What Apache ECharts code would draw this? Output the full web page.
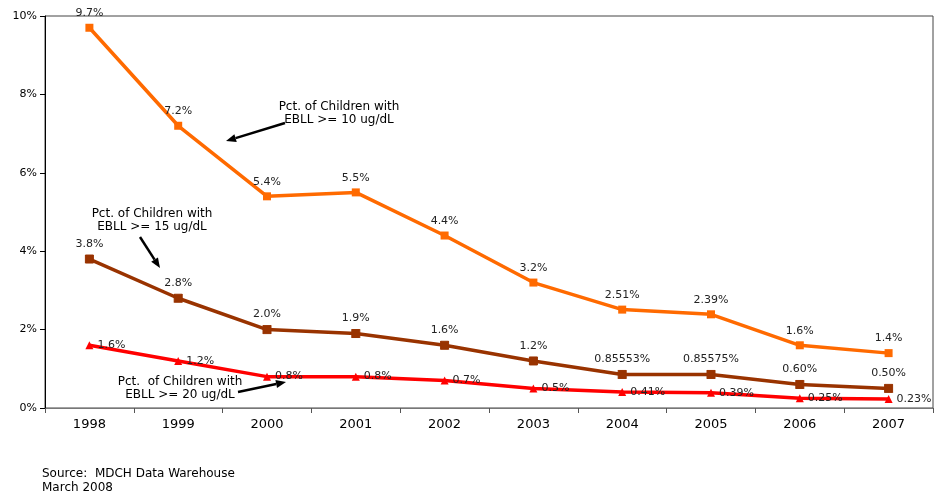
<!DOCTYPE html>
<html>
<head>
<meta charset="utf-8">
<script src="https://cdn.jsdelivr.net/npm/echarts@6/dist/echarts.min.js"></script>
<style>
  html, body { margin: 0; padding: 0; background: #fff; }
  #chart { width: 935px; height: 493px; }
</style>
</head>
<body>
<div id="chart"></div>
<script>
// Blood lead surveillance, Michigan children, 1998-2007
const years = ['1998', '1999', '2000', '2001', '2002', '2003', '2004', '2005', '2006', '2007'];

const ebll10 = [9.7, 7.2, 5.4, 5.5, 4.4, 3.2, 2.51, 2.39, 1.6, 1.4];
const ebll10Labels = ['9.7%', '7.2%', '5.4%', '5.5%', '4.4%', '3.2%', '2.51%', '2.39%', '1.6%', '1.4%'];

const ebll15 = [3.8, 2.8, 2.0, 1.9, 1.6, 1.2, 0.85553, 0.85575, 0.60, 0.50];
const ebll15Labels = ['3.8%', '2.8%', '2.0%', '1.9%', '1.6%', '1.2%', '0.85553%', '0.85575%', '0.60%', '0.50%'];

const ebll20 = [1.6, 1.2, 0.8, 0.8, 0.7, 0.5, 0.41, 0.39, 0.25, 0.23];
const ebll20Labels = ['1.6%', '1.2%', '0.8%', '0.8%', '0.7%', '0.5%', '0.41%', '0.39%', '0.25%', '0.23%'];

const yTicks = [0, 2, 4, 6, 8, 10];

const FONT = '"DejaVu Sans", Verdana, sans-serif';

// Straight arrow with a filled head at (x2, y2)
function arrow(x1, y1, x2, y2) {
  const ang = Math.atan2(y2 - y1, x2 - x1);
  const len = 10, half = 4;
  const bx = x2 - len * Math.cos(ang), by = y2 - len * Math.sin(ang);
  const px = -Math.sin(ang) * half, py = Math.cos(ang) * half;
  return [
    { type: 'line', silent: true, z: 100,
      shape: { x1: x1, y1: y1, x2: bx, y2: by },
      style: { stroke: '#000', lineWidth: 2.5 } },
    { type: 'polygon', silent: true, z: 100,
      shape: { points: [[x2, y2], [bx + px, by + py], [bx - px, by - py]] },
      style: { fill: '#000' } }
  ];
}

// Two-line centred caption; (cx, top) is the centre of its top edge
function note(cx, top, text) {
  return { type: 'text', silent: true, z: 100, x: cx, y: top,
    style: { text: text, font: '12px ' + FONT, fill: '#000', align: 'center',
      verticalAlign: 'top', lineHeight: 13 } };
}

function labelFmt(arr) {
  return function (p) { return arr[p.dataIndex]; };
}

const labelBase = { show: true, color: '#222', fontSize: 11, fontFamily: FONT };

const chart = echarts.init(document.getElementById('chart'));
chart.setOption({
  animation: false,
  backgroundColor: '#fff',
  grid: { left: 45, right: 2, top: 16, bottom: 85, show: true, borderColor: '#444', borderWidth: 1 },
  xAxis: {
    type: 'category',
    data: years,
    boundaryGap: true,
    axisLine: { lineStyle: { color: '#777', width: 1 } },
    axisTick: { show: true, length: 5, lineStyle: { color: '#555' } },
    axisLabel: { color: '#000', fontSize: 13, fontFamily: FONT, margin: 10 },
    splitLine: { show: false }
  },
  yAxis: {
    type: 'value',
    min: yTicks[0],
    max: yTicks[yTicks.length - 1],
    interval: 2,
    axisLine: { show: true, lineStyle: { color: '#000', width: 1 } },
    axisTick: { show: true, length: 5, lineStyle: { color: '#000' } },
    axisLabel: { color: '#000', fontSize: 11, fontFamily: FONT, margin: 8,
      formatter: function (v) { return v + '%'; } },
    splitLine: { show: false }
  },
  series: [
    {
      name: 'EBLL >= 10 ug/dL',
      type: 'line',
      data: ebll10,
      symbol: 'rect',
      symbolSize: 8,
      lineStyle: { color: '#FF6A00', width: 3.5 },
      itemStyle: { color: '#FF6A00' },
      label: Object.assign({}, labelBase, { position: 'top', distance: 5,
        formatter: labelFmt(ebll10Labels) }),
      z: 3
    },
    {
      name: 'EBLL >= 15 ug/dL',
      type: 'line',
      data: ebll15,
      symbol: 'path://M0,0 L10,0 L10,10 L0,10 Z M0,0 L10,10 M10,0 L0,10',
      symbolSize: 8,
      lineStyle: { color: '#993300', width: 3.5 },
      itemStyle: { color: '#993300', borderColor: '#993300', borderWidth: 1 },
      label: Object.assign({}, labelBase, { position: 'top', distance: 5,
        formatter: labelFmt(ebll15Labels) }),
      z: 2
    },
    {
      name: 'EBLL >= 20 ug/dL',
      type: 'line',
      data: ebll20,
      symbol: 'triangle',
      symbolSize: 8,
      lineStyle: { color: '#FF0000', width: 3.5 },
      itemStyle: { color: '#FF0000' },
      label: Object.assign({}, labelBase, { position: 'right', distance: 4,
        formatter: labelFmt(ebll20Labels) }),
      z: 1
    }
  ],
  graphic: [
    note(339, 100, 'Pct. of Children with\nEBLL >= 10 ug/dL'),
    ...arrow(285, 123, 226, 141),
    note(152, 207, 'Pct. of Children with\nEBLL >= 15 ug/dL'),
    ...arrow(140, 237, 160, 268),
    note(180, 375, 'Pct.  of Children with\nEBLL >= 20 ug/dL'),
    ...arrow(238, 392, 286, 382),
    { type: 'text', silent: true, x: 42, y: 467,
      style: { text: 'Source:  MDCH Data Warehouse\nMarch 2008', font: '12px ' + FONT,
        fill: '#000', lineHeight: 14, verticalAlign: 'top' } }
  ]
});
</script>
</body>
</html>
